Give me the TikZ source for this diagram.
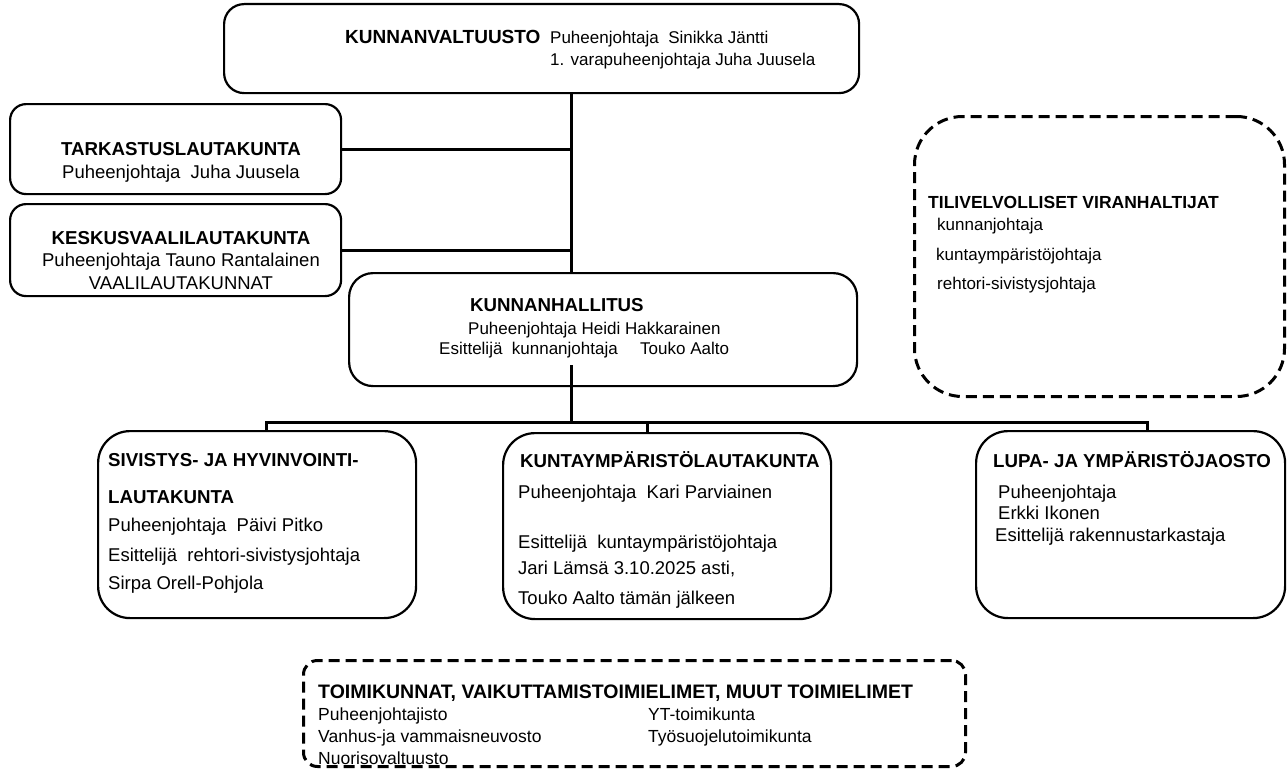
\documentclass[tikz,border=0pt]{standalone}
\usepackage{fontspec}
\setmainfont{Liberation Sans}
\begin{document}
\begin{tikzpicture}[x=1pt,y=-1pt,
    box/.style={draw, line width=2.2pt, rounded corners=20pt, anchor=north west, inner sep=0pt},
    dbox/.style={draw, line width=3pt, dash pattern=on 11pt off 6pt, rounded corners=48pt, anchor=north west, inner sep=0pt},
    txt/.style={anchor=base west, inner sep=0pt, font=\fontsize{18.5}{22}\selectfont},
    sm/.style={font=\fontsize{17}{20}\selectfont},
    hd/.style={txt, font=\fontsize{18.7}{22}\selectfont\bfseries},
    conn/.style={line width=3pt}]
  \useasboundingbox (0,0) rectangle (1287,768);

  % boxes
  \node[box, minimum width=635pt, minimum height=89pt] (valt) at (223,3) {};
  \node[box, rounded corners=16pt, minimum width=331pt, minimum height=90pt] (tark) at (9,103) {};
  \node[box, rounded corners=16pt, minimum width=331pt, minimum height=92pt] (kesk) at (9,203) {};
  \node[box, rounded corners=24pt, minimum width=508pt, minimum height=113pt] (hall) at (348,272) {};
  \node[dbox, minimum width=370pt, minimum height=280pt] (tili) at (913,115) {};
  \node[box, rounded corners=32pt, minimum width=318pt, minimum height=187pt] (siv) at (97,430) {};
  \node[box, rounded corners=32pt, minimum width=328pt, minimum height=186pt] (kunt) at (502,432) {};
  \node[box, rounded corners=32pt, minimum width=309pt, minimum height=187pt] (lupa) at (975,430) {};
  \node[dbox, rounded corners=14pt, minimum width=662pt, minimum height=106pt] (toim) at (302,659) {};

  % connectors
  \coordinate (bus) at (571,422);
  \coordinate (hallout) at (571,365);
  \coordinate (d1) at (266,422);
  \coordinate (d2) at (647,422);
  \coordinate (d3) at (1147,422);
  \draw[conn] (valt.south -| bus) -- (hall.north -| bus);
  \draw[conn] (tark.east) -- (tark.east -| bus);
  \draw[conn] (kesk.east) -- (kesk.east -| bus);
  \draw[conn] (hallout) -- (bus);
  \draw[conn] (siv.north -| d1) -- (d1) -- (d3) -- (lupa.north -| d3);
  \draw[conn] (d2) -- (kunt.north -| d2);

  % texts
  \node[hd, font=\fontsize{19}{22}\selectfont\bfseries] (valtT) at (345,44) {KUNNANVALTUUSTO};
  \node[txt, sm] (valt1) at (550,44) {Puheenjohtaja\ \ Sinikka Jäntti};
  \node[txt, sm] (valt2) at (550,66) {1. varapuheenjohtaja Juha Juusela};

  \node[hd, anchor=base] (tarkT) at (181,155) {TARKASTUSLAUTAKUNTA};
  \node[txt, anchor=base] (tark1) at (181,178) {Puheenjohtaja\ \ Juha Juusela};

  \node[hd, anchor=base] (keskT) at (181,244) {KESKUSVAALILAUTAKUNTA};
  \node[txt, anchor=base] (kesk1) at (181,266) {Puheenjohtaja Tauno Rantalainen};
  \node[txt, anchor=base] (kesk2) at (181,289) {VAALILAUTAKUNNAT};

  \node[hd] (hallT) at (470,311) {KUNNANHALLITUS};
  \node[txt, sm] (hall1) at (468,334) {Puheenjohtaja Heidi Hakkarainen};
  \node[txt, sm] (hall2) at (439,354) {Esittelijä\ \ kunnanjohtaja};
  \node[txt, sm] (hall3) at (640,354) {Touko Aalto};

  \node[hd, font=\fontsize{17.5}{20}\selectfont\bfseries] (tiliT) at (928,208) {TILIVELVOLLISET VIRANHALTIJAT};
  \foreach \n/\x/\y/\t in {1/937/230/kunnanjohtaja, 2/936/260/kuntaympäristöjohtaja,
      3/937/289/rehtori-sivistysjohtaja}
    \node[txt, sm] (tili\n) at (\x,\y) {\t};

  \node[hd] (sivT) at (108,466) {SIVISTYS- JA HYVINVOINTI-};
  \node[hd] (sivT2) at (108,503) {LAUTAKUNTA};
  \foreach \n/\y/\t in {1/531/{Puheenjohtaja\ \ Päivi Pitko}, 2/561/{Esittelijä\ \ rehtori-sivistysjohtaja},
      3/589/{Sirpa Orell-Pohjola}}
    \node[txt] (siv\n) at (108,\y) {\t};

  \node[hd] (kuntT) at (520,467) {KUNTAYMPÄRISTÖLAUTAKUNTA};
  \foreach \n/\y/\t in {1/498/{Puheenjohtaja\ \ Kari Parviainen}, 2/548/{Esittelijä\ \ kuntaympäristöjohtaja},
      3/574/{Jari Lämsä 3.10.2025 asti,}, 4/604/{Touko Aalto tämän jälkeen}}
    \node[txt] (kunt\n) at (518,\y) {\t};

  \node[hd] (lupaT) at (993,467) {LUPA- JA YMPÄRISTÖJAOSTO};
  \foreach \n/\x/\y/\t in {1/998/498/Puheenjohtaja, 2/998/519/Erkki Ikonen,
      3/995/541/Esittelijä rakennustarkastaja}
    \node[txt] (lupa\n) at (\x,\y) {\t};

  \node[hd, font=\fontsize{19.5}{22}\selectfont\bfseries] (toimT) at (318,698) {TOIMIKUNNAT, VAIKUTTAMISTOIMIELIMET, MUUT TOIMIELIMET};
  \foreach \n/\x/\y/\t in {1/318/720/Puheenjohtajisto, 2/318/742/Vanhus-ja vammaisneuvosto,
      3/318/764/Nuorisovaltuusto, 4/648/720/YT-toimikunta, 5/648/742/Työsuojelutoimikunta}
    \node[txt, font=\fontsize{17.5}{20}\selectfont] (toim\n) at (\x,\y) {\t};
\end{tikzpicture}
\end{document}
